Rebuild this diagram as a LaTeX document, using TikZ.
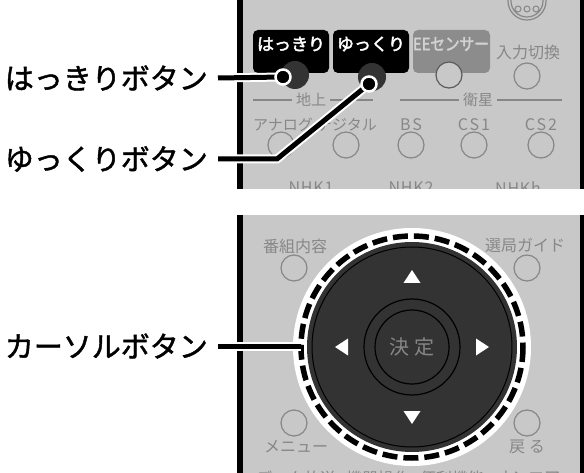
\documentclass[tikz,border=0pt]{standalone}
\usepackage{fontspec}
\setmainfont{Noto Sans CJK JP}
\newfontfamily\spacedfont{Noto Sans CJK JP}[LetterSpace=12]
\newfontfamily\nhkfont{Noto Sans CJK JP}[LetterSpace=5]
\newfontfamily\capfont{Noto Sans CJK JP}[FakeBold=1.5]
\newfontfamily\tagfont{Noto Sans CJK JP}[FakeBold=2.5]
\usetikzlibrary{positioning, calc}
\definecolor{PanelGray}{HTML}{C8C8C8}
\definecolor{PrintGray}{HTML}{878787}
\definecolor{KeyDark}{HTML}{333333}
\definecolor{SensorGray}{HTML}{8C8C8C}
\definecolor{SensorText}{HTML}{D2D2D2}

\begin{document}
\begin{tikzpicture}[x=1pt, y=-1pt,
    keyhole/.style={circle, draw=PrintGray, line width=1.2pt, minimum size=26pt, inner sep=0pt},
    darkkey/.style={circle, fill=KeyDark, minimum size=28pt, inner sep=0pt},
    print/.style={text=PrintGray, font=\fontsize{15}{15}\selectfont, inner sep=0pt},
    keytag/.style={rounded corners=5pt},
    tagtext/.style={text=white, font=\fontsize{17}{17}\tagfont, inner sep=0pt},
    callout/.style={line width=5pt, preaction={draw=white, line width=9pt}},
    tipdot/.style={circle, fill=black, draw=white, line width=2.5pt, minimum size=15pt, inner sep=0pt},
    caption/.style={font=\fontsize{29}{29}\capfont, anchor=east, inner sep=0pt}
]
  \useasboundingbox (0,0) rectangle (584,473);

  % Upper panel (picture-quality keys)
  \begin{scope}
    \clip (243,0) rectangle (580,189);
    \fill[PanelGray] (243,0) rectangle (580,189);
    \draw[PrintGray, line width=1.2pt] (527,1) circle (19) (527,1) circle (16);
    \foreach \x in {518,527,536}{
      \draw[PrintGray, line width=1pt] (\x,9) circle (3);
    }
    \fill[black, keytag] (253,30) rectangle (329,73);
    \fill[black, keytag] (333,30) rectangle (409,73);
    \fill[SensorGray, keytag] (413,30) rectangle (490,73);
    \node[tagtext] (hakkiriTag) at (291,44) {はっきり};
    \node[tagtext] (yukkuriTag) at (371,44) {ゆっくり};
    \node[tagtext, text=SensorText] (sensorTag) at (451,44) {\scalebox{0.86}[1]{EEセンサー}};
    \node[print, font=\fontsize{16}{16}\selectfont] (inputTag) at (528,52) {入力切換};
    \node[darkkey] (hakkiriKey) at (295,75) {};
    \node[darkkey] (yukkuriKey) at (372,77) {};
    \node[keyhole, fill=PanelGray, draw=KeyDark!80] (sensorKey) at (449,75) {};
    \node[keyhole] (inputKey) at (527,76) {};
    % band labels
    \draw[PrintGray, line width=2.5pt] (253,100) -- (373,100);
    \draw[PrintGray, line width=2.5pt] (400,100) -- (562,100);
    \node[print, fill=PanelGray, inner xsep=4pt] (groundLbl) at (311,100) {地上};
    \node[print, fill=PanelGray, inner xsep=4pt] (satLbl) at (478,100) {衛星};
    \foreach \x/\t in {283/アナログ, 347/デジタル}{
      \node[print] at (\x,125) {\t};
    }
    \foreach \x/\t in {411/BS, 474/CS1, 541/CS2}{
      \node[print, font=\fontsize{16}{16}\spacedfont] at (\x,125) {\t};
    }
    \foreach \x in {281,346,411,474,541}{
      \node[keyhole] at (\x,145) {};
    }
    \foreach \x/\t in {311/NHK1, 411/NHK2, 518/NHKh}{
      \node[print, font=\fontsize{16}{16}\nhkfont] at (\x,188) {\t};
    }
  \end{scope}
  \fill[black] (237,0) rectangle (243,189);
  \fill[black] (580,0) rectangle (584,189);

  % Lower panel (cursor pad)
  \begin{scope}
    \clip (243,215) rectangle (580,473);
    \fill[PanelGray] (243,215) rectangle (580,473);
    \node[print, font=\fontsize{16}{16}\selectfont] (guideLbl) at (295,246) {番組内容};
    \node[print, font=\fontsize{16}{16}\selectfont] (stationLbl) at (525,246) {選局ガイド};
    \node[print, font=\fontsize{16}{16}\selectfont] (menuLbl) at (296,447) {メニュー};
    \node[print, font=\fontsize{16}{16}\selectfont] (backLbl) at (527,447) {戻 る};
    \foreach \x/\y in {294/268, 527/268, 294/423, 527/423}{
      \node[keyhole] at (\x,\y) {};
    }
    \foreach \x/\t in {296/データ放送, 378/機器操作, 452/便利機能, 528/オンエア}{
      \node[print, font=\fontsize{16}{16}\selectfont] at (\x,478) {\t};
    }
    \coordinate (padC) at (412,347);
    \fill[white] (padC) circle (119);
    \draw[line width=5.5pt, dash pattern=on 15pt off 6pt] (padC) circle (111);
    \fill[KeyDark] (padC) circle (105);
    \draw[line width=1pt] (padC) circle (100);
    \draw[line width=1.2pt] (padC) circle (48) (padC) circle (37);
    \node[text=PrintGray, font=\fontsize{20}{20}\selectfont, inner sep=0pt] (enterKey) at (padC) {決 定};
    \foreach \a in {0,90,180,270}{
      \fill[white] ($(padC)+(\a:77)$) -- ($(padC)+(\a:64)+(\a+90:8.5)$) -- ($(padC)+(\a:64)+(\a-90:8.5)$) -- cycle;
    }
  \end{scope}
  \fill[black] (237,215) rectangle (243,473);
  \fill[black] (580,215) rectangle (584,473);

  % Captions and callouts
  \node[caption] (hakkiriLbl) at (208,78) {はっきりボタン};
  \node[caption] (yukkuriLbl) at (208,159) {ゆっくりボタン};
  \node[caption] (cursorLbl) at (208,346) {カーソルボタン};
  \coordinate (hakkiriTip) at (283,77);
  \coordinate (yukkuriBend) at (277,159);
  \coordinate (yukkuriTip) at (369,84);
  \coordinate (cursorTip) at (301,346);
  \draw[callout] ($(hakkiriLbl.east)+(10,0)$) -- (hakkiriTip);
  \draw[callout] ($(yukkuriLbl.east)+(10,0)$) -- (yukkuriBend) -- (yukkuriTip);
  \draw[callout] ($(cursorLbl.east)+(10,0)$) -- (cursorTip);
  \node[tipdot] at (hakkiriTip) {};
  \node[tipdot] at (yukkuriTip) {};
\end{tikzpicture}
\end{document}
